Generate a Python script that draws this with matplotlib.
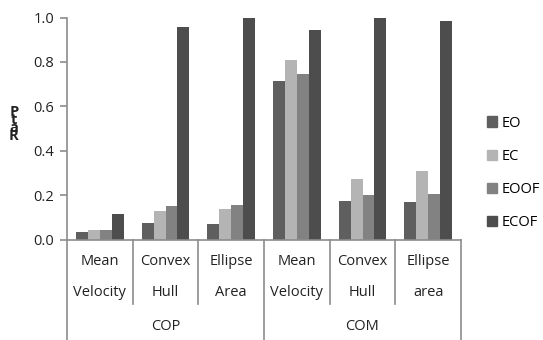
import numpy as np
import matplotlib.pyplot as plt
from matplotlib.patches import Patch

plt.rcParams['font.family'] = ['Open Sans', 'DejaVu Sans']

measures = ["Mean\nVelocity", "Convex\nHull", "Ellipse\nArea",
            "Mean\nVelocity", "Convex\nHull", "Ellipse\narea"]
groups = ["COP", "COM"]
series = ["EO", "EC", "EOOF", "ECOF"]
colors = ["#5f5f5f", "#b4b4b4", "#828282", "#4d4d4d"]

eo = [0.034, 0.074, 0.070, 0.713, 0.173, 0.169]
ec = [0.043, 0.128, 0.137, 0.810, 0.272, 0.309]
eoof = [0.043, 0.151, 0.155, 0.745, 0.200, 0.205]
ecof = [0.115, 0.957, 1.000, 0.944, 1.000, 0.985]
values = [eo, ec, eoof, ecof]

W, H = 543, 340
fig = plt.figure(figsize=(W / 100, H / 100), dpi=100)
ax = fig.add_axes([67 / W, 1 - 239.5 / H, (461 - 67) / W, 222 / H])

axis_col = "#8c8c8c"
txt_col = "#222222"
fs = 10.5
index = np.arange(len(measures))
bar_width = 1 / 5.5
for i, (vals, col) in enumerate(zip(values, colors)):
    ax.bar(index + (i - 1.5) * bar_width, vals, bar_width, color=col,
           label=series[i])

ax.set_xlim(-0.5, len(measures) - 0.5)
ax.set_ylim(0, 1)
ax.set_yticks(np.arange(0, 1.01, 0.2))
ax.set_yticklabels([f"{v:.1f}" for v in np.arange(0, 1.01, 0.2)], fontsize=fs,
                   color=txt_col)
ax.tick_params(axis="y", direction="out", length=5, color=axis_col, width=1.2,
               pad=4)
ax.set_xticks([])
for s in ["top", "right"]:
    ax.spines[s].set_visible(False)
for s in ["left", "bottom"]:
    ax.spines[s].set_color(axis_col)
    ax.spines[s].set_linewidth(1.2)

# multi-level category axis
tr = ax.get_xaxis_transform()
px = 1 / 222
for k in range(len(measures) + 1):
    x = k - 0.5
    low = -100 * px if k % 3 == 0 else -64 * px
    ax.plot([x, x], [0, low], color=axis_col, lw=1.2, transform=tr,
            clip_on=False)
for k, lab in enumerate(measures):
    top, bot = lab.split("\n")
    ax.text(k, -22 * px, top, ha="center", va="center", fontsize=fs,
            transform=tr, color=txt_col)
    ax.text(k, -53 * px, bot, ha="center", va="center", fontsize=fs,
            transform=tr, color=txt_col)
for g, name in enumerate(groups):
    ax.text(g * 3 + 1, -87 * px, name, ha="center", va="center", fontsize=fs,
            transform=tr, color=txt_col)

# garbled vertical axis title, letters squashed on top of each other
fig.text(14 / W, 1 - 124 / H, "P\nt\na\nR", ha="center", va="center",
         fontsize=10.5, fontweight="bold", color=txt_col, linespacing=0.45)

handles = [Patch(color=c) for c in colors]
fig.legend(handles, series, loc="center left", frameon=False,
           bbox_to_anchor=(475 / W, 1 - 173 / H), fontsize=fs,
           handlelength=0.7, handleheight=0.7, handletextpad=0.35,
           labelspacing=1.25, borderpad=0.3)

fig.savefig("out.png", dpi=100)
